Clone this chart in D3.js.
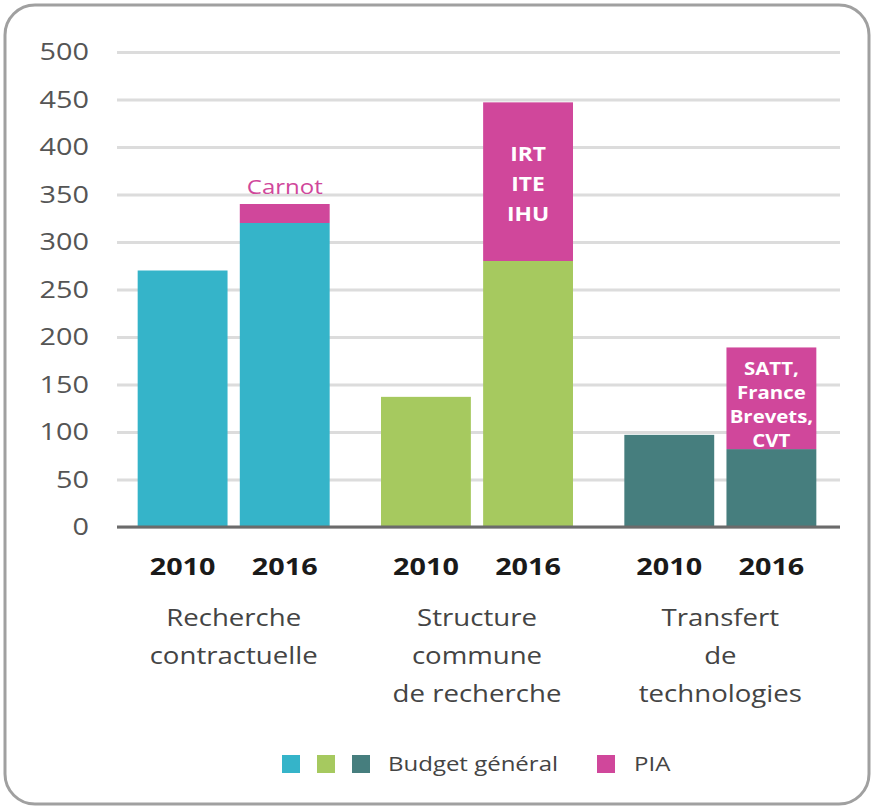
<!DOCTYPE html>
<meta charset="utf-8">
<style>
  body { margin: 0; background: #fff; }
  svg text { font-family: "Open Sans", Lato, sans-serif; }
</style>
<body>
<script src="https://cdn.jsdelivr.net/npm/d3@7"></script>
<script>
  // data
  var groups = ["rc", "scr", "tt"];
  var groupLabels = [
    ["Recherche", "contractuelle"],
    ["Structure", "commune", "de recherche"],
    ["Transfert", "de", "technologies"]
  ];
  var years = ["2010", "2016"];
  var budgetValues = [[270, 320], [137, 280], [97, 82]];
  var piaValues = [[0, 20], [0, 167], [0, 107]];
  var piaLabels = [[[], ["Carnot"]], [[], ["IRT", "ITE", "IHU"]], [[], ["SATT,", "France", "Brevets,", "CVT"]]];
  var budgetColors = ["#35b4c9", "#a6c95f", "#467e7e"];
  var piaColor = "#d0479b";
  var yTicks = [0, 50, 100, 150, 200, 250, 300, 350, 400, 450, 500];

  var W = 874, H = 809;
  var SX = 1.2; // the type in the picture is set wide

  var svg = d3.select("body").append("svg")
    .attr("width", W)
    .attr("height", H);

  // frame
  svg.append("rect")
    .attr("x", 5).attr("y", 5)
    .attr("width", W - 10).attr("height", H - 10)
    .attr("rx", 30)
    .style("fill", "#fff")
    .style("stroke", "#a0a0a0")
    .style("stroke-width", 3);

  function wideText(x, y) {
    return svg.append("g")
      .attr("transform", "translate(" + x + "," + y + ") scale(" + SX + ",1)")
      .append("text");
  }

  var y = d3.scaleLinear().domain([0, 500]).range([527, 52]);
  var x0 = d3.scaleBand().domain(groups).range([112, 842]);
  var x1 = d3.scaleBand().domain(years)
    .range([(x0.bandwidth() - 192) / 2, (x0.bandwidth() + 192) / 2])
    .paddingInner(0.12);

  // grid + y labels
  var yAxis = d3.axisLeft(y).tickValues(yTicks).tickSize(-(840 - 117)).tickPadding(0);
  var ga = svg.append("g")
    .attr("class", "axis")
    .attr("transform", "translate(117,0)")
    .call(yAxis);
  ga.select(".domain").remove();
  ga.selectAll(".tick line").style("stroke", "#dcdcdc").style("stroke-width", 3);
  ga.selectAll(".tick text")
    .attr("x", -28 / SX)
    .attr("transform", "scale(" + SX + ",1)")
    .style("font-size", "24px")
    .style("fill", "#555");

  // stacked bars
  var rows = [];
  groups.forEach(function (g, gi) {
    years.forEach(function (yr, yi) {
      rows.push({ group: g, gi: gi, year: yr, yi: yi, budget: budgetValues[gi][yi], pia: piaValues[gi][yi], labels: piaLabels[gi][yi] });
    });
  });
  var stack = d3.stack().keys(["budget", "pia"])(rows);

  var layers = svg.selectAll(".layer")
    .data(stack)
    .enter().append("g")
    .attr("class", "layer");

  layers.selectAll("rect")
    .data(function (d) { return d.map(function (p) { p.key = d.key; return p; }); })
    .enter().append("rect")
    .attr("x", function (d) { return x0(d.data.group) + x1(d.data.year); })
    .attr("width", x1.bandwidth())
    .attr("y", function (d) { return y(d[1]); })
    .attr("height", function (d) { return y(d[0]) - y(d[1]); })
    .style("fill", function (d) { return d.key === "pia" ? piaColor : budgetColors[d.data.gi]; });

  // axis baseline
  svg.append("line")
    .attr("x1", 117).attr("x2", 840)
    .attr("y1", y(0)).attr("y2", y(0))
    .style("stroke", "#6b6b6b")
    .style("stroke-width", 3);

  // PIA labels
  rows.forEach(function (r) {
    if (!r.labels.length) return;
    var cx = x0(r.group) + x1(r.year) + x1.bandwidth() / 2;
    var top = y(r.budget + r.pia);
    if (r.labels.length === 1) {
      wideText(cx, top - 10)
        .attr("text-anchor", "middle")
        .style("font-size", "20px")
        .style("fill", piaColor)
        .text(r.labels[0]);
    } else {
      var small = r.labels.length > 3;
      var lh = small ? 24 : 30;
      var t = wideText(cx, top + (small ? 28 : 59))
        .attr("text-anchor", "middle")
        .style("font-size", small ? "17px" : "19px")
        .style("font-weight", "bold")
        .style("fill", "#fff");
      r.labels.forEach(function (l, i) {
        t.append("tspan").attr("x", 0).attr("y", i * lh).text(l);
      });
    }
  });

  // year labels
  rows.forEach(function (r) {
    wideText(x0(r.group) + x1(r.year) + x1.bandwidth() / 2, 575)
      .attr("text-anchor", "middle")
      .style("font-size", "24px")
      .style("font-weight", "bold")
      .style("fill", "#1a1a1a")
      .text(r.year);
  });

  // group labels
  groups.forEach(function (g, gi) {
    var t = wideText(x0(g) + x0.bandwidth() / 2, 626)
      .attr("text-anchor", "middle")
      .style("font-size", "23px")
      .style("fill", "#444");
    groupLabels[gi].forEach(function (l, i) {
      t.append("tspan").attr("x", 0).attr("y", i * 38).text(l);
    });
  });

  // legend
  var legend = svg.append("g").attr("transform", "translate(282,755)");
  budgetColors.forEach(function (c, i) {
    legend.append("rect").attr("x", i * 35).attr("y", 0).attr("width", 18).attr("height", 18).style("fill", c);
  });
  svg.append("g").attr("transform", "translate(388,771) scale(" + SX + ",1)")
    .append("text").style("font-size", "20px").style("fill", "#444").text("Budget général");
  legend.append("rect").attr("x", 315).attr("y", 0).attr("width", 18).attr("height", 18).style("fill", piaColor);
  svg.append("g").attr("transform", "translate(634,771) scale(" + SX + ",1)")
    .append("text").style("font-size", "20px").style("fill", "#444").text("PIA");
</script>
</body>
